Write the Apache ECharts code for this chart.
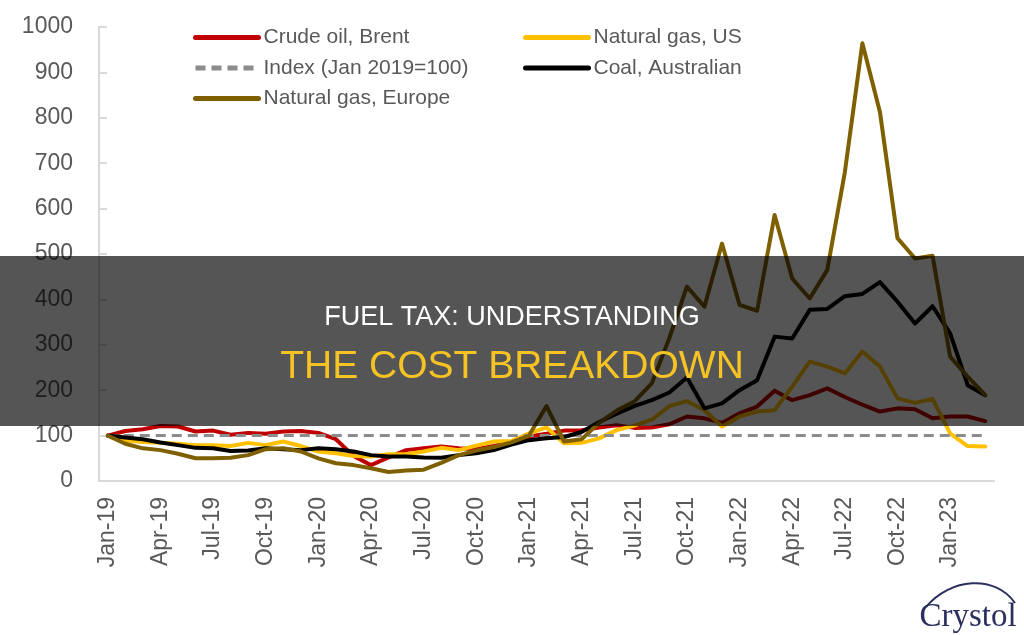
<!DOCTYPE html>
<html>
<head>
    <meta charset="utf-8">
    <title>Fuel tax</title>
    <script src="https://cdn.jsdelivr.net/npm/echarts@6/dist/echarts.min.js"></script>
    <style>
        html, body { margin: 0; padding: 0; background: #fff; }
    </style>
</head>
<body>
    <div id="main" style="width: 1024px;height:635px;"></div>

    <script type="text/javascript">
    // months, Jan-19 .. Mar-23
    var months = [
        'Jan-19','Feb-19','Mar-19','Apr-19','May-19','Jun-19','Jul-19','Aug-19','Sep-19','Oct-19','Nov-19','Dec-19',
        'Jan-20','Feb-20','Mar-20','Apr-20','May-20','Jun-20','Jul-20','Aug-20','Sep-20','Oct-20','Nov-20','Dec-20',
        'Jan-21','Feb-21','Mar-21','Apr-21','May-21','Jun-21','Jul-21','Aug-21','Sep-21','Oct-21','Nov-21','Dec-21',
        'Jan-22','Feb-22','Mar-22','Apr-22','May-22','Jun-22','Jul-22','Aug-22','Sep-22','Oct-22','Nov-22','Dec-22',
        'Jan-23','Feb-23','Mar-23'
    ];

    var brent = [100,110,114,121,120,109,111,102,106,104,109,110,
                 106,92,55,35,52,68,72,76,72,70,77,86,
                 98,104,111,112,118,123,117,118,125,142,138,128,
                 149,164,199,178,189,204,185,168,153,160,158,138,
                 142,142,132];

    var gasUS = [100,90,86,84,82,79,79,77,84,79,87,77,
                 65,61,55,54,59,59,65,73,68,78,87,88,
                 105,118,83,84,94,112,122,135,165,176,156,120,
                 142,153,156,208,263,252,237,285,252,182,172,181,
                 105,77,76];

    var indexLine = [100,100,100,100,100,100,100,100,100,100,100,100,
                     100,100,100,100,100,100,100,100,100,100,100,100,
                     100,100,100,100,100,100,100,100,100,100,100,100,
                     100,100,100,100,100,100,100,100,100,100,100,100,
                     100,100,100];

    var coal = [100,96,92,85,79,73,72,66,67,72,70,68,
                72,70,65,57,54,54,52,51,57,61,68,80,
                90,94,97,108,130,148,165,178,195,228,160,171,
                200,222,318,314,377,379,407,412,438,395,347,385,
                325,211,189];

    var gasEurope = [100,82,72,68,60,50,50,51,57,70,72,65,
                     50,39,35,28,20,23,25,40,57,67,75,85,
                     100,165,87,92,128,155,175,215,315,428,384,523,
                     388,375,586,446,402,465,680,964,813,535,490,496,
                     274,230,189];

    var yTicks = [0,100,200,300,400,500,600,700,800,900,1000];

    var myChart = echarts.init(document.getElementById('main'));

    var textColor = '#595959';
    var font = 'Liberation Sans, Arial, sans-serif';

    function lineSeries(name, data, color, z) {
        return {
            name: name,
            type: 'line',
            data: data,
            symbol: 'none',
            z: z,
            lineStyle: { color: color, width: 4, cap: 'round', join: 'round' },
            itemStyle: { color: color }
        };
    }

    var idx = lineSeries('Index (Jan 2019=100)', indexLine, '#8c8c8c', 3);
    idx.lineStyle.width = 3;
    idx.lineStyle.type = [10, 6];
    idx.lineStyle.cap = 'butt';

    function legendCol(left, names) {
        return {
            orient: 'vertical',
            left: left, top: 22,
            itemWidth: 63, itemHeight: 22, itemGap: 9.5,
            itemStyle: { opacity: 0 },
            lineStyle: { width: 5 },
            textStyle: { color: textColor, fontSize: 21, fontFamily: font },
            data: names
        };
    }

    var option = {
        animation: false,
        grid: { left: 99, right: 30, top: 27, bottom: 154 },
        legend: [
            legendCol(188, ['Crude oil, Brent', 'Index (Jan 2019=100)', 'Natural gas, Europe']),
            legendCol(518, ['Natural gas, US', 'Coal, Australian'])
        ],
        xAxis: {
            type: 'category',
            boundaryGap: true,
            data: months,
            axisLine: { lineStyle: { color: '#d9d9d9', width: 2 } },
            axisTick: { interval: 2, length: 8, lineStyle: { color: '#d9d9d9', width: 2 } },
            axisLabel: {
                interval: 2, rotate: 90, margin: 16,
                color: textColor, fontSize: 23, fontFamily: font
            },
            splitLine: { show: false }
        },
        yAxis: {
            type: 'value',
            min: 0, max: 1000, interval: 100,
            axisLine: { show: true, lineStyle: { color: '#d9d9d9', width: 2 } },
            axisTick: { show: true, inside: true, length: 8, lineStyle: { color: '#d9d9d9', width: 2 } },
            axisLabel: {
                margin: 26, color: textColor, fontSize: 23, fontFamily: font,
                customValues: yTicks,
                formatter: function (v) { return String(v); }
            },
            splitLine: { show: false }
        },
        series: [
            lineSeries('Crude oil, Brent', brent, '#c00000', 2),
            lineSeries('Natural gas, US', gasUS, '#ffc000', 2),
            idx,
            lineSeries('Coal, Australian', coal, '#000000', 4),
            lineSeries('Natural gas, Europe', gasEurope, '#7f6000', 5)
        ],
        graphic: [
            {
                type: 'rect', z: 100, silent: true,
                shape: { x: 0, y: 256, width: 1024, height: 170 },
                style: { fill: 'rgba(0,0,0,0.665)' }
            },
            {
                type: 'text', z: 101, silent: true,
                x: 512, y: 318,
                style: {
                    text: 'FUEL TAX: UNDERSTANDING', fill: '#ffffff',
                    fontSize: 27, fontFamily: font,
                    align: 'center', verticalAlign: 'middle'
                }
            },
            {
                type: 'text', z: 101, silent: true,
                x: 512, y: 367,
                style: {
                    text: 'THE COST BREAKDOWN', fill: '#f6c324',
                    fontSize: 39, fontFamily: font,
                    align: 'center', verticalAlign: 'middle'
                }
            },
            {
                type: 'bezierCurve', z: 101, silent: true,
                shape: { x1: 926, y1: 607, cpx1: 950, cpy1: 578, x2: 1015, y2: 603, cpx2: 995, cpy2: 574 },
                style: { stroke: '#2b2f5e', lineWidth: 2, fill: null }
            },
            {
                type: 'text', z: 101, silent: true,
                x: 968, y: 617,
                style: {
                    text: 'Crystol', fill: '#2b2f5e',
                    fontSize: 33, fontFamily: 'Liberation Serif, Times New Roman, serif',
                    align: 'center', verticalAlign: 'middle'
                }
            }
        ]
    };

    myChart.setOption(option);
    </script>
</body>
</html>
